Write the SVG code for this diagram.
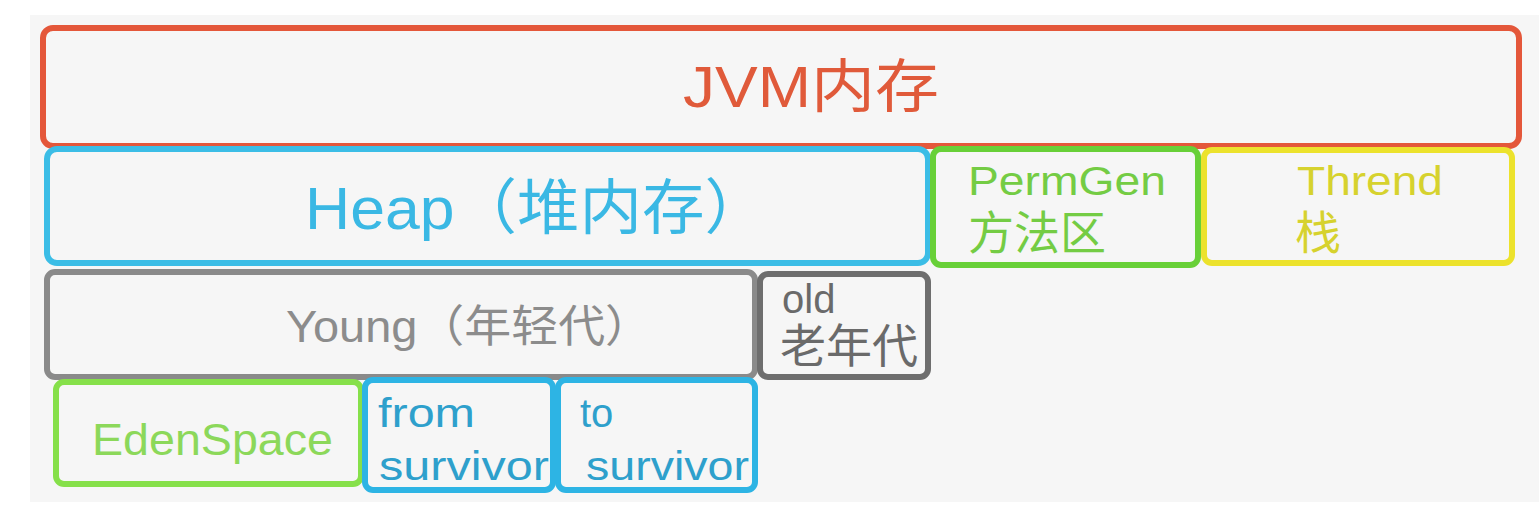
<svg xmlns="http://www.w3.org/2000/svg" width="1539" height="507" viewBox="0 0 1539 507">
  <style>
    .box { fill: none; stroke-width: 6; }
    .t { font-family: "Liberation Sans", "Noto Sans CJK SC", sans-serif; }
    .red { stroke: #e4573a; }
    .blue { stroke: #3bbde6; }
    .gray { stroke: #8a8a8a; }
    .dgray { stroke: #6e6e6e; }
    .lgreen { stroke: #86e04a; }
    .green { stroke: #68d038; }
    .sblue { stroke: #2db4e4; }
    .yellow { stroke: #ece22c; }
  </style>
  <rect x="0" y="0" width="1539" height="507" fill="#ffffff"/>
  <rect x="30" y="15" width="1509" height="487" fill="#f6f6f6"/>

  <g id="jvm">
    <rect class="box red" x="43" y="28" width="1476" height="118" rx="10"/>
    <text class="t" x="683" y="107" font-size="58" fill="#e05a3a" textLength="256" lengthAdjust="spacingAndGlyphs">JVM内存</text>
  </g>

  <g id="heap">
    <rect class="box blue" x="47" y="149" width="881" height="114" rx="10"/>
    <text class="t" x="305" y="229" font-size="60" fill="#3ab8e4" textLength="462" lengthAdjust="spacingAndGlyphs">Heap（堆内存）</text>
  </g>

  <g id="permgen">
    <rect class="box green" x="933" y="149" width="265" height="116" rx="8"/>
    <text class="t" x="968" y="195" font-size="40" fill="#74cc44" textLength="198" lengthAdjust="spacingAndGlyphs">PermGen</text>
    <text class="t" x="968" y="249" font-size="46" fill="#74cc44">方法区</text>
  </g>

  <g id="thrend">
    <rect class="box yellow" x="1204" y="150" width="308" height="113" rx="8"/>
    <text class="t" x="1297" y="195" font-size="40" fill="#d6d22e" textLength="146" lengthAdjust="spacingAndGlyphs">Thrend</text>
    <text class="t" x="1295" y="249" font-size="46" fill="#d6d22e">栈</text>
  </g>

  <g id="young">
    <rect class="box gray" x="47" y="272" width="708" height="105" rx="8"/>
    <text class="t" x="286" y="342" font-size="44" fill="#8c8c8c" textLength="366" lengthAdjust="spacingAndGlyphs">Young（年轻代）</text>
  </g>

  <g id="old">
    <rect class="box dgray" x="760" y="274" width="168" height="103" rx="8"/>
    <text class="t" x="782" y="313" font-size="40" fill="#6a6a6a">old</text>
    <text class="t" x="780" y="362" font-size="46" fill="#6a6a6a">老年代</text>
  </g>

  <g id="eden">
    <rect class="box lgreen" x="56" y="382" width="305" height="102" rx="8"/>
    <text class="t" x="92" y="455" font-size="44" fill="#8cd85a" textLength="241" lengthAdjust="spacingAndGlyphs">EdenSpace</text>
  </g>

  <g id="from-survivor">
    <rect class="box sblue" x="365" y="380" width="188" height="110" rx="8"/>
    <text class="t" x="378" y="427" font-size="40" fill="#2ea0cc" textLength="97" lengthAdjust="spacingAndGlyphs">from</text>
    <text class="t" x="379" y="480" font-size="40" fill="#2ea0cc" textLength="170" lengthAdjust="spacingAndGlyphs">survivor</text>
  </g>

  <g id="to-survivor">
    <rect class="box sblue" x="558" y="380" width="197" height="110" rx="8"/>
    <text class="t" x="580" y="427" font-size="40" fill="#2ea0cc">to</text>
    <text class="t" x="586" y="480" font-size="40" fill="#2ea0cc" textLength="163" lengthAdjust="spacingAndGlyphs">survivor</text>
  </g>

  <g id="connectors"></g>
</svg>
